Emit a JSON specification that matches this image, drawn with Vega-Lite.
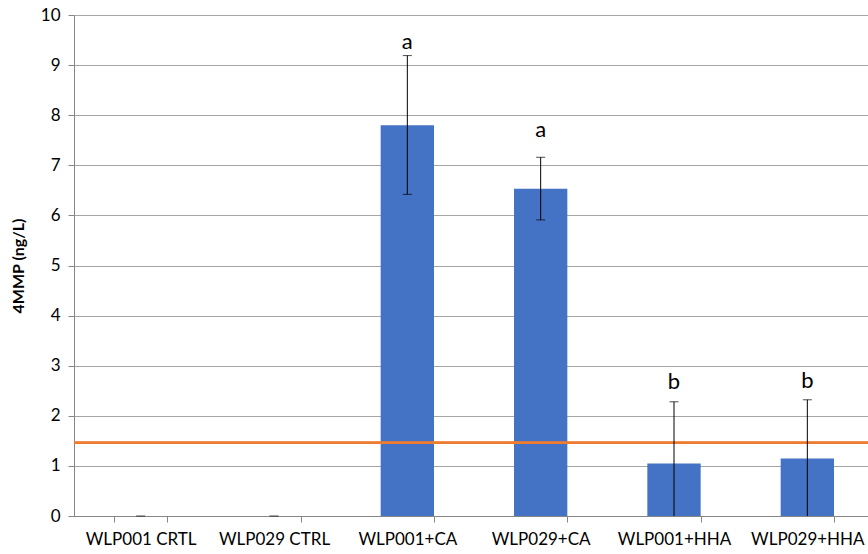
{
  "$schema": "https://vega.github.io/schema/vega-lite/v6.json",
  "width": 800,
  "height": 501,
  "autosize": {"type": "none"},
  "padding": {"left": 74, "top": 15, "right": 0, "bottom": 38},
  "config": {
    "view": {"stroke": null},
    "font": "Lato",
    "axis": {
      "labelFont": "Lato", "titleFont": "Lato", "labelColor": "#000000", "titleColor": "#000000",
      "labelFontSize": 17, "titleFontSize": 16, "ticks": true, "tickSize": 6, "tickColor": "#868686", "tickOpacity": 1, "tickWidth": 1, "domainColor": "#868686"
    },
    "axisY": {
      "titleFontWeight": "bold", "titlePadding": 14, "labelPadding": 8, "tickCount": 11, "ticks": true, "tickSize": 6,
      "grid": true, "gridColor": "#A6A6A6", "gridWidth": 1, "labelOverlap": false, "labelFontSize": 17
    },
    "axisX": {"labelPadding": 9, "labelAngle": 0, "tickBand": "extent", "ticks": true, "tickSize": 6, "labelFontSize": 17}
  },
  "data": {
    "values": [
      {"group": "WLP001 CRTL", "mean": 0, "low": 0, "high": 0, "letter": "", "labelY": 0},
      {"group": "WLP029 CTRL", "mean": 0, "low": 0, "high": 0, "letter": "", "labelY": 0},
      {"group": "WLP001+CA", "mean": 7.8, "low": 6.42, "high": 9.19, "letter": "a", "labelY": 9.46},
      {"group": "WLP029+CA", "mean": 6.53, "low": 5.91, "high": 7.16, "letter": "a", "labelY": 7.7},
      {"group": "WLP001+HHA", "mean": 1.05, "low": -0.18, "high": 2.28, "letter": "b", "labelY": 2.68},
      {"group": "WLP029+HHA", "mean": 1.15, "low": -0.02, "high": 2.32, "letter": "b", "labelY": 2.7}
    ]
  },
  "encoding": {
    "x": {
      "field": "group", "type": "nominal", "sort": null,
      "scale": {"paddingInner": 0.6, "paddingOuter": 0.3},
      "axis": {"title": null, "ticks": true, "tickSize": 6, "tickColor": "#868686", "tickOpacity": 1, "tickWidth": 1, "tickBand": "extent", "labelPadding": 9}
    }
  },
  "layer": [
    {
      "mark": {"type": "bar", "color": "#4472C4"},
      "encoding": {
        "y": {
          "field": "mean", "type": "quantitative",
          "scale": {"domain": [0, 10], "nice": false},
          "axis": {"title": "4MMP (ng/L)", "values": [0,1,2,3,4,5,6,7,8,9,10], "tickCount": 11, "ticks": true, "tickSize": 6, "tickColor": "#868686", "tickOpacity": 1, "tickWidth": 1, "labelPadding": 8}
        }
      }
    },
    {
      "mark": {"type": "rule", "color": "#ED7D31", "strokeWidth": 2},
      "encoding": {"x": null, "y": {"datum": 1.463, "type": "quantitative"}}
    },
    {
      "transform": [{"filter": "datum.high > 0"}],
      "mark": {"type": "rule", "color": "#000000", "strokeWidth": 1, "clip": true},
      "encoding": {"y": {"field": "low", "type": "quantitative"}, "y2": {"field": "high"}}
    },
    {
      "mark": {"type": "tick", "color": "#000000", "orient": "horizontal", "size": 9, "thickness": 1},
      "encoding": {"y": {"field": "high", "type": "quantitative"}}
    },
    {
      "transform": [{"filter": "datum.high > 0 && datum.low > 0"}],
      "mark": {"type": "tick", "color": "#000000", "orient": "horizontal", "size": 9, "thickness": 1},
      "encoding": {"y": {"field": "low", "type": "quantitative"}}
    },
    {
      "transform": [{"filter": "datum.letter != ''"}],
      "mark": {"type": "text", "fontSize": 22, "font": "Lato", "color": "#000000", "baseline": "middle"},
      "encoding": {"y": {"field": "labelY", "type": "quantitative"}, "text": {"field": "letter"}}
    }
  ]
}
